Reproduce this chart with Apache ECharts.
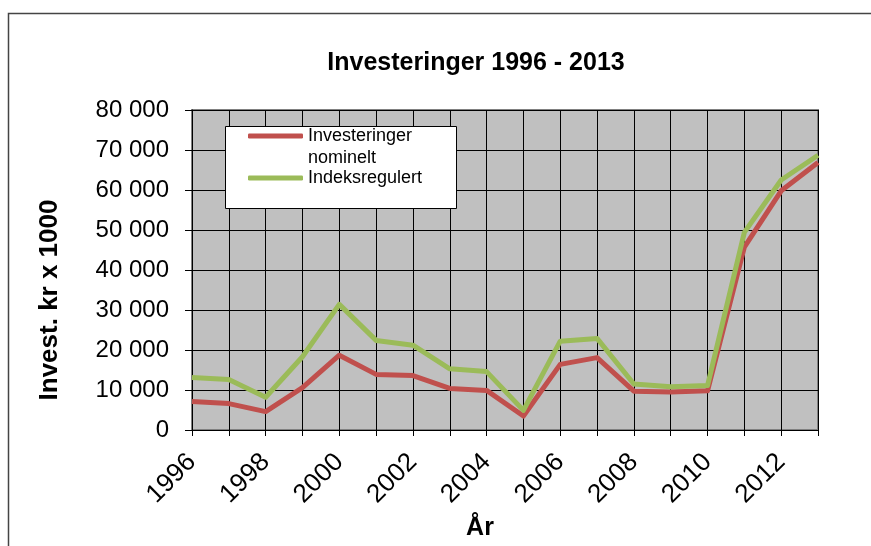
<!DOCTYPE html>
<html>
<head>
<meta charset="utf-8">
<script src="https://cdn.jsdelivr.net/npm/echarts@6/dist/echarts.min.js"></script>
<style>
    html, body { margin: 0; padding: 0; background: #fff; }
    #chart { width: 871px; height: 546px; }
</style>
</head>
<body>
<div id="chart"></div>
<script>
// data
const years = ['1996', '1997', '1998', '1999', '2000', '2001', '2002', '2003', '2004',
    '2005', '2006', '2007', '2008', '2009', '2010', '2011', '2012', '2013'];
const nominelt = [7100, 6600, 4600, 10600, 18700, 13900, 13600, 10400, 9900,
    3500, 16400, 18100, 9700, 9500, 9800, 45700, 59800, 66900];
const indeksregulert = [13100, 12600, 8200, 18300, 31400, 22400, 21200, 15300, 14600,
    4900, 22200, 22900, 11500, 10800, 11100, 49400, 62500, 68700];
const yTicks = [0, 10000, 20000, 30000, 40000, 50000, 60000, 70000, 80000];

const fmtThousands = (v) => String(v).replace(/\B(?=(\d{3})+(?!\d))/g, ' ');

const chart = echarts.init(document.getElementById('chart'));
chart.setOption({
    backgroundColor: '#fff',
    animation: false,
    textStyle: { fontFamily: 'Liberation Sans, Arial, sans-serif', color: '#000' },
    title: {
        text: 'Investeringer 1996 - 2013',
        left: 471,
        top: 46,
        textAlign: 'center',
        textStyle: { fontSize: 25, fontWeight: 'bold', color: '#000' }
    },
    graphic: [
        {
            type: 'rect',
            z: -1,
            shape: { x: 8.5, y: 13.5, width: 900, height: 600 },
            style: { fill: 'none', stroke: '#444', lineWidth: 1.5 }
        },
        {
            type: 'rect',
            z: 3,
            shape: { x: 225.5, y: 126.5, width: 231, height: 82 },
            style: { fill: '#fff', stroke: '#000', lineWidth: 1 }
        }
    ],
    legend: {
        orient: 'vertical',
        left: 248,
        top: 103,
        padding: 0,
        itemGap: -2,
        itemWidth: 55,
        itemHeight: 5,
        icon: 'roundRect',
        selectedMode: false,
        textStyle: { fontSize: 18, lineHeight: 22, color: '#000' },
        // blank first line keeps the marker level with "Investeringer"
        formatter: (name) => name.indexOf(' ') > 0 ? ' \n' + name.replace(' ', '\n') : name,
        data: ['Investeringer nominelt', 'Indeksregulert']
    },
    grid: {
        left: 192,
        right: 53,
        top: 110,
        bottom: 116,
        show: true,
        backgroundColor: '#c0c0c0',
        borderColor: '#808080',
        borderWidth: 2
    },
    xAxis: {
        type: 'category',
        data: years,
        boundaryGap: false,
        name: 'År',
        nameLocation: 'middle',
        nameGap: 83,
        nameTextStyle: { fontSize: 25, fontWeight: 'bold', color: '#000', padding: [0, 50, 0, 0] },
        axisLine: { lineStyle: { color: '#000', width: 1 } },
        axisTick: { interval: 0, length: 6, lineStyle: { color: '#000' } },
        axisLabel: { interval: 1, rotate: 45, fontSize: 26, margin: 28, color: '#000' },
        splitLine: { show: true, interval: 0, lineStyle: { color: '#000', width: 1 } }
    },
    yAxis: {
        type: 'value',
        min: yTicks[0],
        max: yTicks[yTicks.length - 1],
        interval: yTicks[1] - yTicks[0],
        name: 'Invest. kr x 1000',
        nameLocation: 'middle',
        nameRotate: 90,
        nameGap: 129,
        nameTextStyle: { fontSize: 26, fontWeight: 'bold', color: '#000', padding: [0, 60, 0, 0] },
        axisLine: { show: true, lineStyle: { color: '#000', width: 1 } },
        axisTick: { show: true, length: 7, lineStyle: { color: '#000' } },
        axisLabel: { fontSize: 24, margin: 23, color: '#000', formatter: fmtThousands },
        splitLine: { show: true, lineStyle: { color: '#000', width: 1 } }
    },
    series: [
        {
            name: 'Investeringer nominelt',
            type: 'line',
            data: nominelt,
            symbol: 'none',
            color: '#c0504d',
            lineStyle: { width: 5, color: '#c0504d', join: 'round' }
        },
        {
            name: 'Indeksregulert',
            type: 'line',
            data: indeksregulert,
            symbol: 'none',
            color: '#9bbb59',
            lineStyle: { width: 5, color: '#9bbb59', join: 'round' }
        }
    ]
});
</script>
</body>
</html>
